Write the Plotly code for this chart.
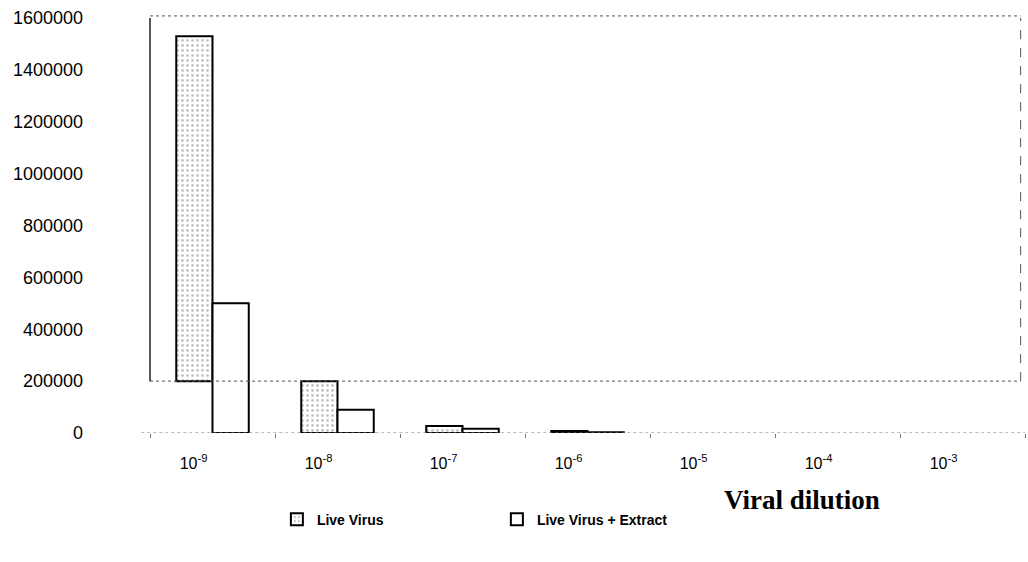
import plotly.graph_objects as go

categories = ["10<sup>-9</sup>", "10<sup>-8</sup>", "10<sup>-7</sup>", "10<sup>-6</sup>",
              "10<sup>-5</sup>", "10<sup>-4</sup>", "10<sup>-3</sup>"]
live_virus_top = [1530000, 200000, 27000, 8000, 0, 0, 0]
live_virus_base = [200000, 0, 0, 0, 0, 0, 0]
live_virus_extract = [500000, 90000, 16000, 3000, 0, 0, 0]
y_ticks = [0, 200000, 400000, 600000, 800000, 1000000, 1200000, 1400000, 1600000]

fig = go.Figure()
fig.add_trace(go.Bar(
    name="Live Virus", x=categories,
    y=[t - b for t, b in zip(live_virus_top, live_virus_base)],
    base=live_virus_base,
    marker=dict(color="white",
                line=dict(color="black", width=[2 if v > 0 else 0 for v in live_virus_top]),
                pattern=dict(shape=".", fgcolor="#8a8a8a", bgcolor="white",
                             size=5, solidity=0.25)),
))
fig.add_trace(go.Bar(
    name="Live Virus + Extract", x=categories, y=live_virus_extract,
    marker=dict(color="white",
                line=dict(color="black", width=[2 if v > 0 else 0 for v in live_virus_extract])),
))

# frame (dashed) as in the scan
frame = dict(color="#555", width=1, dash="dot")
fig.add_shape(type="line", xref="paper", yref="paper", x0=0, x1=0.995, y0=1.005, y1=1.005, line=frame)
fig.add_shape(type="line", xref="paper", yref="y", x0=0, x1=0.995, y0=200000, y1=200000, line=frame)
fig.add_shape(type="line", xref="paper", yref="y", x0=0.995, x1=0.995, y0=200000, y1=1600000,
              line=dict(color="#555", width=1, dash="dash"))
fig.add_shape(type="line", xref="paper", yref="y", x0=0, x1=0, y0=200000, y1=1610000,
              line=dict(color="#222", width=1.5))
fig.add_shape(type="line", xref="paper", yref="y", x0=-0.01, x1=1, y0=0, y1=0,
              line=dict(color="#777", width=1, dash="dot"))

fig.add_annotation(text="<b>Viral dilution</b>", xref="paper", yref="paper",
                   x=0.745, y=-0.162, xanchor="center", yanchor="middle", showarrow=False,
                   font=dict(family="Times New Roman, Liberation Serif, serif", size=27, color="black"))

fig.update_layout(
    width=1028, height=562,
    margin=dict(l=150, r=3, t=18, b=129),
    paper_bgcolor="white", plot_bgcolor="white",
    barmode="group", bargap=0.42, bargroupgap=0,
    font=dict(family="Arial, Liberation Sans, sans-serif", color="black"),
    showlegend=True,
    legend=dict(orientation="h", x=0.145, y=-0.17, xanchor="left", yanchor="top",
                entrywidth=175, entrywidthmode="pixels",
                font=dict(size=14, family="Arial, Liberation Sans, sans-serif", weight="bold")),
    xaxis=dict(type="category", range=[-0.5, 6.5], showline=False, showgrid=False,
               ticks="outside", tickson="boundaries", ticklen=4, tickcolor="#777",
               tickfont=dict(size=16), ticklabelshift=-19, ticklabelstandoff=19),
    yaxis=dict(range=[0, 1600000], tickvals=y_ticks, showgrid=False, zeroline=False,
               showline=False, ticks="", tickfont=dict(size=18),
               ticklabelstandoff=66, tickformat="d"),
)

fig.write_html("out.html", config={"displayModeBar": False},
               post_script="document.body.style.margin='0';")
